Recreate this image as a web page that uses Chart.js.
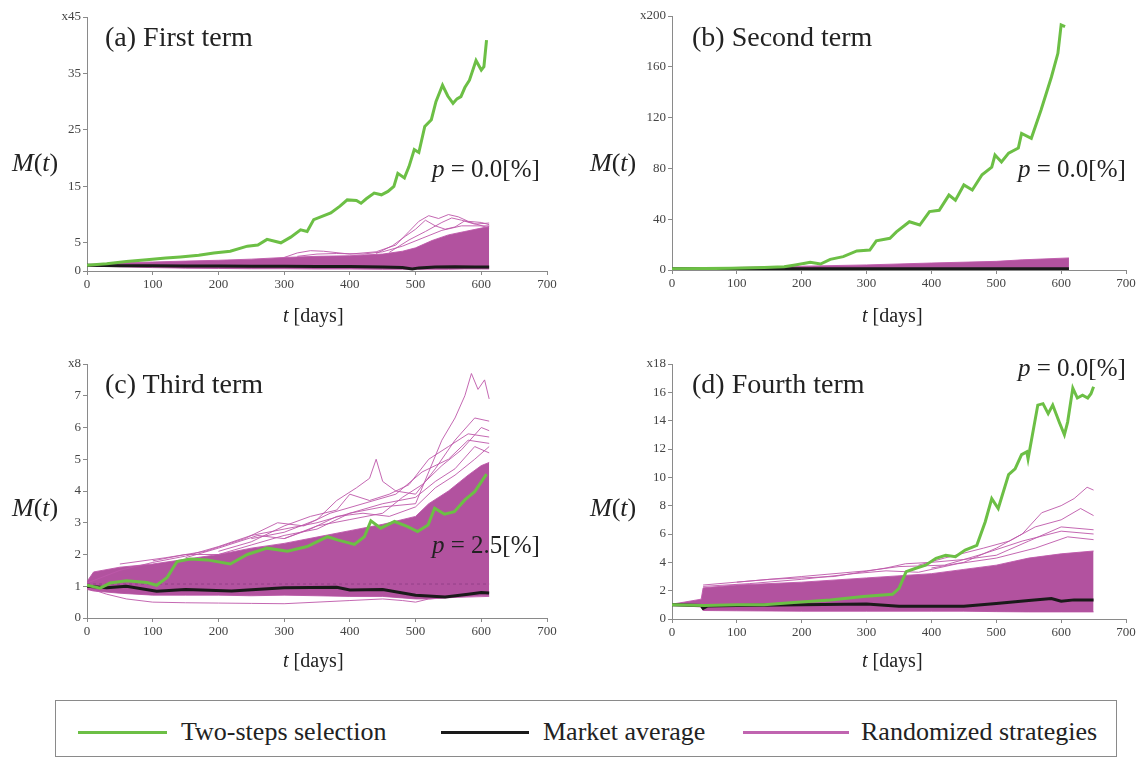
<!DOCTYPE html>
<html>
<head>
<meta charset="utf-8">
<script src="https://cdn.jsdelivr.net/npm/chart.js@4.4.1/dist/chart.umd.min.js"></script>
<style>
  body { margin: 0; background: #fff; width: 1139px; height: 765px; position: relative; overflow: hidden;
         font-family: "Liberation Serif", "DejaVu Serif", serif; color: #222; }
  .panel { position: absolute; }
  .lbl { position: absolute; white-space: nowrap; line-height: 1; }
  .ttl { font-size: 28px; }
  .mt { font-size: 26px; }
  .pv { font-size: 25px; }
  .td { font-size: 20px; }
  i { font-style: italic; }
  #legend { position: absolute; left: 55px; top: 700px; width: 1062px; height: 57px;
            border: 1.5px solid #8a8a8a; box-sizing: border-box; }
  .key { position: absolute; top: 30px; height: 3px; }
  .ktxt { position: absolute; top: 18px; font-size: 26px; line-height: 1; white-space: nowrap; }
</style>
</head>
<body>

<div class="panel" style="left:0;top:0"><canvas id="chart-a" width="570" height="330"></canvas></div>
<div class="panel" style="left:570px;top:0"><canvas id="chart-b" width="569" height="330"></canvas></div>
<div class="panel" style="left:0;top:330px"><canvas id="chart-c" width="570" height="350"></canvas></div>
<div class="panel" style="left:570px;top:330px"><canvas id="chart-d" width="569" height="350"></canvas></div>

<div class="lbl ttl" style="left:105px;top:23px">(a) First term</div>
<div class="lbl mt" style="left:12px;top:150px"><i>M</i>(<i>t</i>)</div>
<div class="lbl pv" style="left:432px;top:156px"><i>p</i> = 0.0[%]</div>
<div class="lbl td" style="left:283px;top:305px"><i>t</i> [days]</div>

<div class="lbl ttl" style="left:692px;top:23px">(b) Second term</div>
<div class="lbl mt" style="left:590px;top:150px"><i>M</i>(<i>t</i>)</div>
<div class="lbl pv" style="left:1018px;top:156px"><i>p</i> = 0.0[%]</div>
<div class="lbl td" style="left:862px;top:305px"><i>t</i> [days]</div>

<div class="lbl ttl" style="left:105px;top:370px">(c) Third term</div>
<div class="lbl mt" style="left:12px;top:495px"><i>M</i>(<i>t</i>)</div>
<div class="lbl pv" style="left:432px;top:532px"><i>p</i> = 2.5[%]</div>
<div class="lbl td" style="left:283px;top:650px"><i>t</i> [days]</div>

<div class="lbl ttl" style="left:692px;top:370px">(d) Fourth term</div>
<div class="lbl mt" style="left:590px;top:495px"><i>M</i>(<i>t</i>)</div>
<div class="lbl pv" style="left:1018px;top:355px"><i>p</i> = 0.0[%]</div>
<div class="lbl td" style="left:862px;top:650px"><i>t</i> [days]</div>

<div id="legend">
  <div class="key" style="left:22px;width:89px;background:#6cbf45"></div>
  <div class="ktxt" style="left:125px">Two-steps selection</div>
  <div class="key" style="left:385px;width:88px;background:#1a1a1a"></div>
  <div class="ktxt" style="left:487px">Market average</div>
  <div class="key" style="left:687px;width:106px;background:#c064b0"></div>
  <div class="ktxt" style="left:805px">Randomized strategies</div>
</div>

<script>
const xTicks = [0, 100, 200, 300, 400, 500, 600, 700];
const yTicksA = [0, 5, 15, 25, 35, 45];
const yTicksB = [0, 40, 80, 120, 160, 200];
const yTicksC = [0, 1, 2, 3, 4, 5, 6, 7, 8];
const yTicksD = [0, 2, 4, 6, 8, 10, 12, 14, 16, 18];

// ── (a) First term ─────────────────────────────────────────────
const twoStepA = [[0,1.0],[30,1.3],[60,1.7],[91,2.0],[120,2.3],[142,2.5],[170,2.8],[193,3.2],[218,3.5],
  [244,4.4],[260,4.6],[274,5.6],[295,5.0],[310,6.0],[325,7.3],[335,7.0],[345,9.1],[371,10.3],[385,11.5],
  [396,12.6],[410,12.5],[417,12.0],[425,12.8],[437,13.8],[448,13.5],[458,14.1],[467,15.0],[473,17.3],
  [483,16.5],[490,18.5],[498,21.5],[505,21.0],[514,25.6],[524,26.8],[531,30.0],[541,32.9],[549,31.0],
  [557,29.7],[563,30.5],[569,30.9],[575,32.5],[582,33.8],[592,37.3],[600,35.6],[604,36.2],[608,40.9]];
const marketA = [[0,1.0],[50,0.95],[100,0.95],[150,0.9],[200,0.9],[250,0.85],[300,0.85],[350,0.8],
  [400,0.8],[450,0.7],[480,0.6],[495,0.35],[505,0.55],[530,0.7],[560,0.75],[590,0.7],[612,0.7]];
const bandA = [[0,0.9,1.1],[50,0.75,1.45],[100,0.6,1.6],[150,0.5,1.75],[200,0.45,1.9],[250,0.4,2.1],
  [300,0.4,2.4],[350,0.35,2.6],[400,0.35,2.7],[450,0.3,3.0],[480,0.3,3.5],[500,0.3,4.1],[525,0.3,5.4],
  [550,0.3,6.4],[575,0.35,7.0],[600,0.35,7.6],[612,0.35,7.9]];
const randA = [
  [[300,2.4],[320,3.2],[340,3.6],[360,3.5],[400,3.0],[440,3.4],[470,4.6],[490,7.0],[505,8.8],[520,9.8],
   [535,9.3],[550,10.0],[565,9.6],[580,8.8],[600,8.6],[612,8.2]],
  [[440,3.1],[465,4.5],[485,6.2],[500,7.4],[515,9.0],[530,8.0],[545,7.4],[560,7.8],[575,8.9],[590,8.4],[612,7.6]],
  [[460,3.3],[490,5.5],[515,7.0],[540,8.6],[555,9.4],[570,9.0],[590,8.3],[612,8.5]],
  [[320,2.6],[350,3.0],[380,3.1],[420,3.0],[450,3.4],[480,4.4],[510,5.8],[540,7.2],[570,8.0],[612,8.0]]
];

// ── (b) Second term ────────────────────────────────────────────
const twoStepB = [[0,1],[50,1.1],[91,1.3],[142,2.0],[173,2.6],[190,4.0],[203,5.2],[213,6.0],[229,4.7],
  [244,8.4],[264,10.5],[285,15],[305,15.7],[315,23],[336,25],[346,30],[366,38],[382,35.4],[397,46],
  [412,47],[427,59],[437,55],[450,67],[463,63],[478,75],[493,81],[498,90.5],[508,85],[519,92],[534,96],
  [539,107.6],[554,103.7],[569,126],[585,152],[595,170.6],[600,193],[606,191.6]];
const marketB = [[0,1],[200,1],[400,0.9],[600,0.9],[612,0.9]];
const bandB = [[0,0.8,1.2],[100,0.6,2.0],[200,0.45,3.0],[300,0.4,4.0],[400,0.4,5.5],[500,0.35,6.8],
  [540,0.35,8.0],[612,0.3,9.5]];
const randB = [];

// ── (c) Third term ─────────────────────────────────────────────
const twoStepC = [[0,1.03],[20,0.94],[35,1.1],[60,1.17],[91,1.12],[106,1.03],[122,1.28],[137,1.78],
  [157,1.86],[183,1.83],[218,1.7],[244,2.0],[274,2.2],[305,2.1],[335,2.25],[366,2.56],[381,2.46],
  [407,2.32],[422,2.56],[432,3.06],[447,2.83],[468,3.04],[488,2.88],[503,2.72],[519,2.93],[529,3.46],
  [544,3.27],[559,3.35],[575,3.72],[590,3.98],[608,4.53]];
const marketC = [[0,1.0],[30,0.95],[60,1.0],[106,0.84],[150,0.9],[220,0.85],[300,0.95],[380,0.97],
  [400,0.88],[450,0.9],[500,0.72],[545,0.66],[580,0.75],[600,0.8],[612,0.79]];
const bandC = [[0,0.9,1.15],[10,0.85,1.45],[50,0.78,1.6],[100,0.72,1.7],[150,0.72,1.85],[200,0.72,2.0],
  [250,0.7,2.2],[300,0.72,2.35],[350,0.7,2.55],[400,0.68,2.75],[450,0.68,2.95],[500,0.6,3.2],
  [520,0.6,3.6],[550,0.65,4.0],[580,0.68,4.5],[600,0.7,4.8],[612,0.7,4.9]];
const randC = [
  [[0,1.1],[50,1.5],[100,1.75],[150,1.95],[200,2.25],[250,2.6],[300,2.8],[350,3.0],[400,3.3],[450,3.5],
   [500,3.6],[520,4.6],[540,5.6],[560,6.3],[575,7.0],[585,7.7],[595,7.2],[605,7.5],[612,6.9]],
  [[250,2.5],[300,2.7],[350,3.1],[380,3.7],[410,4.1],[430,4.4],[440,5.0],[450,4.3],[470,4.0],[500,3.9],
   [530,4.7],[560,5.6],[590,6.3],[612,6.2]],
  [[200,2.1],[250,2.4],[300,2.9],[340,3.2],[380,3.4],[400,3.9],[430,3.7],[460,3.9],[490,4.2],[520,5.0],
   [550,5.4],[580,5.8],[612,5.7]],
  [[150,1.9],[200,2.2],[260,2.6],[300,2.5],[350,2.9],[400,3.1],[450,3.3],[480,3.8],[510,4.2],[540,4.8],
   [570,5.3],[600,6.0],[612,5.9]],
  [[100,1.8],[150,2.0],[200,2.0],[250,2.3],[300,2.6],[350,2.8],[400,3.3],[450,3.6],[500,3.8],[530,4.3],
   [560,4.7],[590,5.4],[612,5.2]],
  [[50,1.7],[120,1.9],[180,2.1],[240,2.5],[290,3.0],[330,2.9],[370,3.3],[420,3.6],[470,3.9],[510,4.6],
   [550,5.0],[580,5.6],[612,5.5]],
  [[300,2.5],[340,2.8],[380,3.2],[420,3.3],[460,3.2],[500,3.5],[530,4.1],[560,4.5],[590,5.0],[612,5.4]],
  [[0,0.95],[30,0.75],[60,0.6],[100,0.5],[150,0.48],[200,0.47],[250,0.46],[300,0.45],[350,0.5],
   [400,0.55],[450,0.6],[480,0.55],[500,0.5],[520,0.6],[560,0.65],[612,0.68]]
];
const refC = [[0,1.07],[612,1.07]];

// ── (d) Fourth term ────────────────────────────────────────────
const twoStepD = [[0,1.0],[50,0.95],[100,1.0],[142,1.0],[193,1.18],[244,1.34],[295,1.58],[340,1.74],
  [350,2.16],[361,3.34],[376,3.58],[391,3.8],[407,4.28],[422,4.5],[437,4.4],[452,4.87],[470,5.2],
  [483,6.87],[493,8.5],[503,7.8],[519,10.2],[529,10.6],[539,11.6],[547,11.8],[549,11.3],[564,15.1],
  [572,15.2],[580,14.5],[587,15.1],[597,13.9],[605,13.0],[610,13.9],[618,16.3],[625,15.6],[633,15.8],
  [641,15.6],[646,15.9],[650,16.4]];
const marketD = [[0,1.0],[45,0.95],[48,0.75],[55,0.92],[100,0.95],[200,1.0],[300,1.05],[350,0.9],
  [450,0.9],[500,1.1],[550,1.3],[585,1.45],[600,1.25],[620,1.35],[650,1.35]];
const bandD = [[0,0.95,1.05],[20,0.92,1.2],[45,0.85,1.4],[48,0.6,2.2],[100,0.58,2.4],[200,0.55,2.6],
  [300,0.55,2.9],[400,0.55,3.2],[450,0.55,3.5],[500,0.52,3.8],[550,0.5,4.3],[600,0.5,4.6],[650,0.5,4.8]];
const randD = [
  [[400,3.6],[450,4.0],[500,5.0],[540,6.0],[570,7.5],[600,8.0],[620,8.5],[640,9.3],[650,9.1]],
  [[380,3.8],[420,4.3],[480,5.0],[520,5.5],[560,6.5],[600,7.0],[630,7.8],[650,7.3]],
  [[48,2.4],[150,2.8],[250,3.0],[330,3.6],[360,3.9],[400,4.0],[450,4.2],[500,4.5],[550,5.5],[600,6.5],[650,6.3]],
  [[100,2.6],[200,3.0],[300,3.4],[350,3.7],[420,3.8],[480,4.6],[540,5.5],[600,6.2],[650,6.0]],
  [[48,2.3],[120,2.5],[200,2.8],[280,3.2],[330,3.4],[380,3.3],[440,3.9],[500,4.3],[560,5.0],[610,5.8],[650,5.6]]
];

const GREEN = '#6cbf45', BLACK = '#1a1a1a', FILL = '#b2529f', RAND = 'rgba(190,88,170,0.9)';
const FONT = 'Liberation Serif';

const pts = arr => arr.map(p => ({ x: p[0], y: p[1] }));

function makeChart(id, cfg) {
  const ds = [
    { label: 'Two-steps selection', data: pts(cfg.green), borderColor: GREEN, borderWidth: 3, order: 0 },
    { label: 'Market average', data: pts(cfg.market), borderColor: BLACK, borderWidth: 3, order: 1 },
    { label: 'band-hi', data: cfg.band.map(p => ({ x: p[0], y: p[2] })), borderColor: RAND, borderWidth: 1,
      backgroundColor: FILL, fill: '+1', order: 5 },
    { label: 'band-lo', data: cfg.band.map(p => ({ x: p[0], y: p[1] })), borderColor: RAND, borderWidth: 1,
      fill: false, order: 5 },
  ];
  cfg.rand.forEach(r => ds.push({ label: 'rand', data: pts(r), borderColor: RAND, borderWidth: 1, order: 3 }));
  if (cfg.ref) ds.push({ label: 'ref', data: pts(cfg.ref), borderColor: 'rgba(140,60,130,0.8)',
    borderWidth: 1, borderDash: [3, 3], order: 2 });

  return new Chart(document.getElementById(id), {
    type: 'line',
    data: { datasets: ds },
    options: {
      responsive: false, animation: false,
      elements: { point: { radius: 0 }, line: { tension: 0 } },
      layout: { padding: cfg.pad },
      plugins: { legend: { display: false }, tooltip: { enabled: false } },
      scales: {
        x: {
          type: 'linear', min: 0, max: 700,
          afterBuildTicks: s => { s.ticks = xTicks.map(v => ({ value: v })); },
          afterFit: s => { s.height = cfg.xh; },
          grid: { drawOnChartArea: false, tickLength: 4, color: '#8a8a8a' },
          border: { color: '#8a8a8a' },
          ticks: { color: '#444', padding: 2, font: { family: FONT, size: 13 } }
        },
        y: {
          min: 0, max: cfg.yTicks[cfg.yTicks.length - 1],
          afterBuildTicks: s => { s.ticks = cfg.yTicks.map(v => ({ value: v })); },
          afterFit: s => { s.width = cfg.yw; },
          grid: { drawOnChartArea: false, tickLength: 4, color: '#8a8a8a' },
          border: { color: '#8a8a8a' },
          ticks: { color: '#444', padding: 2, font: { family: FONT, size: 13 },
            callback: v => v === cfg.yTicks[cfg.yTicks.length - 1] ? 'x' + v : v }
        }
      }
    }
  });
}

makeChart('chart-a', { green: twoStepA, market: marketA, band: bandA, rand: randA, yTicks: yTicksA,
  yw: 87, xh: 59, pad: { left: 0, right: 23, top: 17, bottom: 0 } });
makeChart('chart-b', { green: twoStepB, market: marketB, band: bandB, rand: randB, yTicks: yTicksB,
  yw: 102, xh: 60, pad: { left: 0, right: 13, top: 16, bottom: 0 } });
makeChart('chart-c', { green: twoStepC, market: marketC, band: bandC, rand: randC, ref: refC, yTicks: yTicksC,
  yw: 87, xh: 62, pad: { left: 0, right: 23, top: 34, bottom: 0 } });
makeChart('chart-d', { green: twoStepD, market: marketD, band: bandD, rand: randD, yTicks: yTicksD,
  yw: 102, xh: 61, pad: { left: 0, right: 13, top: 34, bottom: 0 } });
</script>
</body>
</html>
